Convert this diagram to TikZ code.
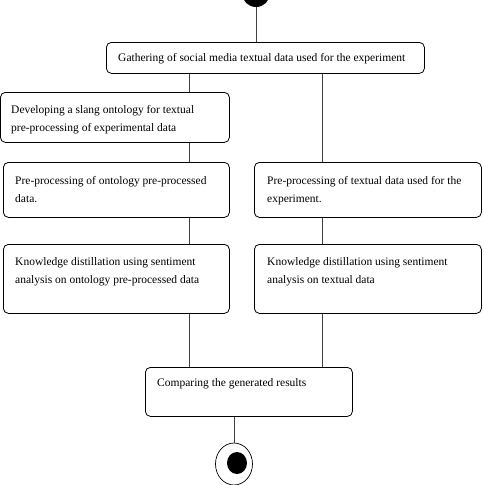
\documentclass[tikz,border=0pt]{standalone}
\usepackage{fontspec}
\setmainfont{Liberation Serif}
\usetikzlibrary{shapes.geometric, positioning, calc}

\begin{document}
\begin{tikzpicture}[
x=1pt, y=-1pt,
    activity/.style={rectangle, draw, line width=0.8pt, rounded corners=5pt, anchor=north west, inner sep=0pt},
    label text/.style={anchor=north west, align=left, inner sep=0pt, font=\fontsize{11.5}{18}\selectfont},
    line/.style={draw, line width=0.7pt, black!75}
]
    \useasboundingbox (0,0) rectangle (483,485);

    % Activities
    \node[activity, minimum width=318, minimum height=31] (gather) at (106,42) {};
    \node[activity, minimum width=229, minimum height=50] (develop) at (0,92) {};
    \node[activity, minimum width=226, minimum height=55] (preleft) at (3,162) {};
    \node[activity, minimum width=227, minimum height=55] (preright) at (254,162) {};
    \node[activity, minimum width=226, minimum height=69] (knowleft) at (3,244) {};
    \node[activity, minimum width=227, minimum height=69] (knowright) at (254,244) {};
    \node[activity, minimum width=207, minimum height=49] (compare) at (145,367) {};

    % Texts
    \node[label text] (gathertxt) at ($(gather.north west)+(12,11)$) {Gathering of social media textual data used for the experiment};
    \node[label text] (developtxt) at ($(develop.north west)+(11,13)$) {Developing a slang ontology for textual\\pre-processing of experimental data};
    \node[label text] (prelefttxt) at ($(preleft.north west)+(12,14)$) {Pre-processing of ontology pre-processed\\data.};
    \node[label text] (prerighttxt) at ($(preright.north west)+(13,14)$) {Pre-processing of textual data used for the\\experiment.};
    \node[label text] (knowlefttxt) at ($(knowleft.north west)+(12,13)$) {Knowledge distillation using sentiment\\analysis on ontology pre-processed data};
    \node[label text] (knowrighttxt) at ($(knowright.north west)+(13,13)$) {Knowledge distillation using sentiment\\analysis on textual data};
    \node[label text] (comparetxt) at ($(compare.north west)+(12,11)$) {Comparing the generated results};

    % Start and end
    \node[circle, fill=black, minimum size=28, inner sep=0pt] (start) at (256,-7) {};
    \node[ellipse, draw, line width=0.7pt, minimum width=37, minimum height=42, inner sep=0pt] (finish) at (234,464) {};
    \node[ellipse, fill=black, minimum width=20, minimum height=22, inner sep=0pt] (finishdot) at (237,463) {};

    % Flow
    \coordinate (lx) at (189,0);
    \coordinate (rx) at (322,0);
    \draw[line] (start) -- (start |- gather.north);
    \draw[line] (lx |- gather.south) -- (lx |- develop.north);
    \draw[line] (lx |- develop.south) -- (lx |- preleft.north);
    \draw[line] (lx |- preleft.south) -- (lx |- knowleft.north);
    \draw[line] (lx |- knowleft.south) -- (lx |- compare.north);
    \draw[line] (rx |- gather.south) -- (rx |- preright.north);
    \draw[line] (rx |- preright.south) -- (rx |- knowright.north);
    \draw[line] (rx |- knowright.south) -- (rx |- compare.north);
    \draw[line] (compare.south -| finish.north) -- (finish.north);

\end{tikzpicture}
\end{document}
